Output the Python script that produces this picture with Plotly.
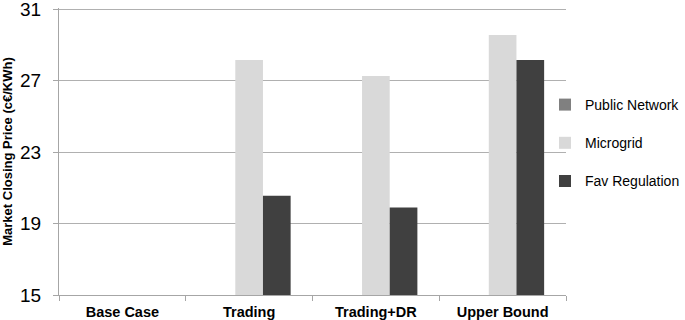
import plotly.graph_objects as go

categories = ["Base Case", "Trading", "Trading+DR", "Upper Bound"]
public_network = [None, None, None, None]
microgrid = [None, 28.15, 27.25, 29.55]
fav_regulation = [None, 20.55, 19.9, 28.15]
y_ticks = [15, 19, 23, 27, 31]

FONT = "Liberation Sans, Arial, sans-serif"

fig = go.Figure()
for name, vals, col in [("Public Network", public_network, "#808080"),
                        ("Microgrid", microgrid, "#d9d9d9"),
                        ("Fav Regulation", fav_regulation, "#404040")]:
    fig.add_trace(go.Bar(x=categories, y=vals, name=name, legendgroup=name,
                         marker=dict(color=col, line=dict(width=0)), showlegend=True))

fig.update_layout(
    width=685, height=320,
    margin=dict(l=59, r=119, t=8, b=25, autoexpand=False),
    paper_bgcolor="white", plot_bgcolor="white",
    barmode="group", bargap=0.345, bargroupgap=0,
    font=dict(family=FONT, color="#000"),
    showlegend=True,
    legend=dict(xref="container", yref="container", x=545/685, xanchor="left",
                y=1 - 143/320, yanchor="middle",
                font=dict(size=14, family=FONT, color="#000"),
                tracegroupgap=17, itemwidth=30, bgcolor="rgba(0,0,0,0)"),
    xaxis=dict(showline=True, linecolor="#a6a6a6", linewidth=1,
               ticks="outside", tickson="boundaries", ticklen=5, tickcolor="#a6a6a6",
               ticklabelstandoff=4,
               tickfont=dict(size=14.5, family=FONT, color="#000", weight="bold"),
               showgrid=False),
    yaxis=dict(range=[15, 31.06], tickvals=y_ticks, showgrid=True, gridcolor="#b0b0b0",
               gridwidth=1, showline=True, linecolor="#a6a6a6", ticks="outside",
               ticklen=5, tickcolor="#a6a6a6", zeroline=False, ticklabelstandoff=8,
               ticklabeloverflow="allow",
               tickfont=dict(size=19, family=FONT, color="#000"),
               title=dict(text="Market Closing Price (c€/KWh)", standoff=8,
                          font=dict(size=13, family=FONT, color="#000", weight="bold"))),
)
fig.write_html("out.html")
